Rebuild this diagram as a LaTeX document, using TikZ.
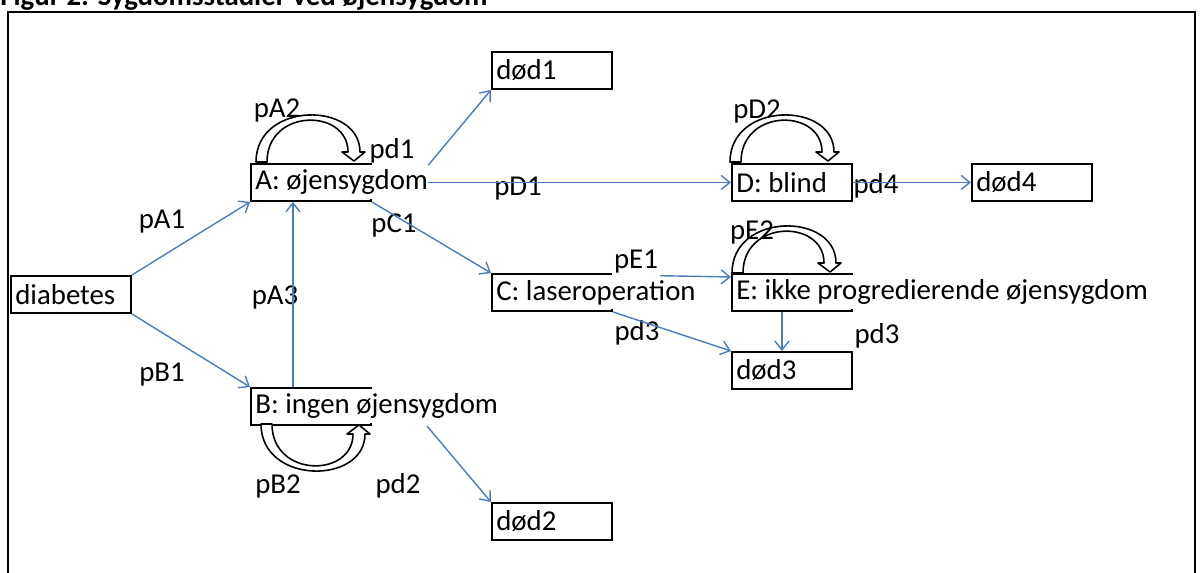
\documentclass[tikz,border=0pt]{standalone}
\usepackage{fontspec}
\setmainfont{Carlito}
\usetikzlibrary{arrows.meta, positioning, calc}
\definecolor{linkblue}{RGB}{74,126,187}

\begin{document}
\begin{tikzpicture}[
    x=0.02cm, y=-0.02cm,
    font=\fontsize{16.4}{19}\selectfont,
    stage/.style={draw, line width=1.1pt, anchor=north west, minimum width=2.4cm, minimum height=0.74cm, inner sep=0pt},
    stage_txt/.style={anchor=west, fill=white, inner sep=0pt, minimum height=0.68cm, xshift=0.1cm},
    prob/.style={inner sep=1pt},
    arrow/.style={-{Straight Barb[length=5pt, width=8pt]}, line width=0.8pt, linkblue},
    loopband/.style={draw, fill=white, line width=0.9pt, line join=round},
    selfloop/.pic={
        \draw[loopband] (0,0) .. controls (0,-61) and (104,-61) .. (104,-10)
            -- (109,-10) -- (98,-1) -- (86,-10) -- (92,-10)
            .. controls (92,-54) and (11,-54) .. (11,0) -- cycle;
    }
]
\useasboundingbox (0,0) rectangle (1201,572);

% title and frame
\node[anchor=base west, inner sep=0pt, font=\fontsize{16.4}{19}\selectfont\bfseries] (title) at (0,5) {Figur 2: Sygdomsstadier ved øjensygdom};
\draw[line width=1.1pt] (8,600) -- (8,12) -- (1195,12) -- (1195,600);

% stages
\node[stage] (diab) at (10,275) {};
\node[stage_txt] (diab_t) at (diab.west) {diabetes};
\node[stage] (A) at (250,163) {};
\node[stage_txt] (A_t) at (A.west) {A: øjensygdom};
\node[stage] (B) at (250,387) {};
\node[stage_txt] (B_t) at (B.west) {B: ingen øjensygdom};
\node[stage] (C) at (491,273) {};
\node[stage_txt] (C_t) at (C.west) {C: laseroperation};
\node[stage] (D) at (731,163) {};
\node[stage_txt] (D_t) at (D.west) {D: blind};
\node[stage] (E) at (731,273) {};
\node[stage_txt] (E_t) at (E.west) {E: ikke progredierende øjensygdom};

% death states
\node[stage] (d1) at (491,51) {};
\node[stage_txt] (d1_t) at (d1.west) {død1};
\node[stage] (d2) at (491,502) {};
\node[stage_txt] (d2_t) at (d2.west) {død2};
\node[stage] (d3) at (731,351) {};
\node[stage_txt] (d3_t) at (d3.west) {død3};
\node[stage] (d4) at (971,163) {};
\node[stage_txt] (d4_t) at (d4.west) {død4};

% probabilities
\node[prob] (lA1) at (162,222) {pA1};
\node[prob] (lB1) at (162,375) {pB1};
\node[prob] (lA2) at (277,110) {pA2};
\node[prob] (lA3) at (275,297) {pA3};
\node[prob] (lB2) at (278,486) {pB2};
\node[prob] (ld1) at (392,151) {pd1};
\node[prob] (lC1) at (394,225) {pC1};
\node[prob] (ld2) at (398,486) {pd2};
\node[prob] (lD1) at (518,189) {pD1};
\node[prob, fill=white] (lE1) at (636,262) {pE1};
\node[prob] (ld3a) at (637,333) {pd3};
\node[prob] (lD2) at (757,111) {pD2};
\node[prob] (ld4) at (876,186) {pd4};
\node[prob] (ld3b) at (877,336) {pd3};

% loops
\pic at (256,162) {selfloop};
\pic at (730,162) {selfloop};
\pic at (732,273) {selfloop};
\pic[yscale=-1] at (261,424) {selfloop};
\node[prob] (lE2) at (752,232) {pE2};

% edges
\draw[arrow] (diab.north east) -- (A.south west);
\draw[arrow] (diab.south east) -- (B.north west);
\draw[arrow] ([xshift=0.86cm]B.north west) -- ([xshift=0.86cm]A.south west);
\draw[arrow] (A_t.north east) -- (d1.south west);
\draw[arrow] (A_t.east) -- (D.west);
\draw[arrow] (A.south east) -- (C.north west);
\draw[arrow] ([xshift=1.1cm]B.south east) -- (d2.north west);
\draw[arrow] (D.east) -- (d4.west);
\draw[arrow] (lE1.south east) -- ([yshift=-0.08cm]E.north west);
\draw[arrow] (C.south east) -- (d3.north west);
\draw[arrow] ([xshift=1.02cm]E.south west) -- ([xshift=1.02cm]d3.north west);

\end{tikzpicture}
\end{document}
